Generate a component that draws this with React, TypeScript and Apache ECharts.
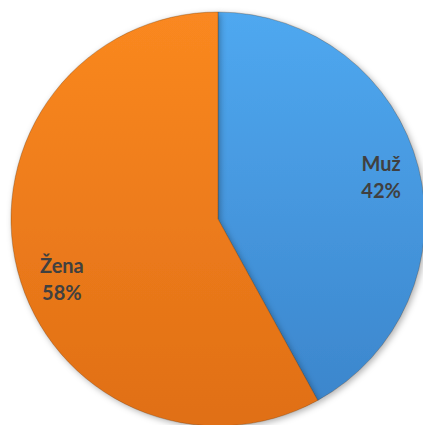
import React, { useEffect, useRef } from "react";
import * as echarts from "echarts";

const categories = ["Muž", "Žena"];
const values = [42, 58];
const topColors = ["#4FA8F0", "#FA8820"];
const bottomColors = ["#3B84CA", "#E06F16"];

export default function App() {
  const ref = useRef<HTMLDivElement>(null);
  useEffect(() => {
    if (!ref.current) return;
    const chart = echarts.init(ref.current, undefined, { renderer: "svg" });
    const data = categories.map((name, i) => ({
      name,
      value: values[i],
      itemStyle: {
        color: {
          type: "linear",
          global: true,
          x: 0,
          y: 12,
          x2: 0,
          y2: 426,
          colorStops: [
            { offset: 0, color: topColors[i] },
            { offset: 1, color: bottomColors[i] },
          ],
        },
      },
    }));
    chart.setOption({
      animation: false,
      series: [
        {
          type: "pie",
          center: [218, 219],
          radius: [0, 207],
          startAngle: 90,
          clockwise: true,
          silent: true,
          label: { show: false },
          labelLine: { show: false },
          itemStyle: {
            borderColor: "rgba(80,50,20,0.3)",
            borderWidth: 1,
            shadowBlur: 6,
            shadowOffsetX: 2,
            shadowOffsetY: 2,
            shadowColor: "rgba(0,0,0,0.3)",
          },
          data,
        },
        {
          type: "pie",
          center: [218, 219],
          radius: [128, 207],
          startAngle: 90,
          clockwise: true,
          silent: true,
          itemStyle: { color: "rgba(0,0,0,0)" },
          label: {
            show: true,
            position: "inside",
            formatter: (p: any) => p.name + "\n" + Math.round(p.percent) + "%",
            color: "#404040",
            fontFamily: "Lato",
            fontWeight: "bold",
            fontSize: 20,
            lineHeight: 27,
            align: "center",
          },
          labelLayout: (params: any) =>
            params.dataIndex === 1 ? { dx: 9, dy: 17 } : { dx: -2, dy: 0 },
          labelLine: { show: false },
          data: categories.map((name, i) => ({ name, value: values[i] })),
        },
      ],
    });
    return () => chart.dispose();
  }, []);
  return (
    <div
      ref={ref}
      style={{ position: "fixed", left: 0, top: 0, width: 423, height: 425, background: "#fff" }}
    />
  );
}
